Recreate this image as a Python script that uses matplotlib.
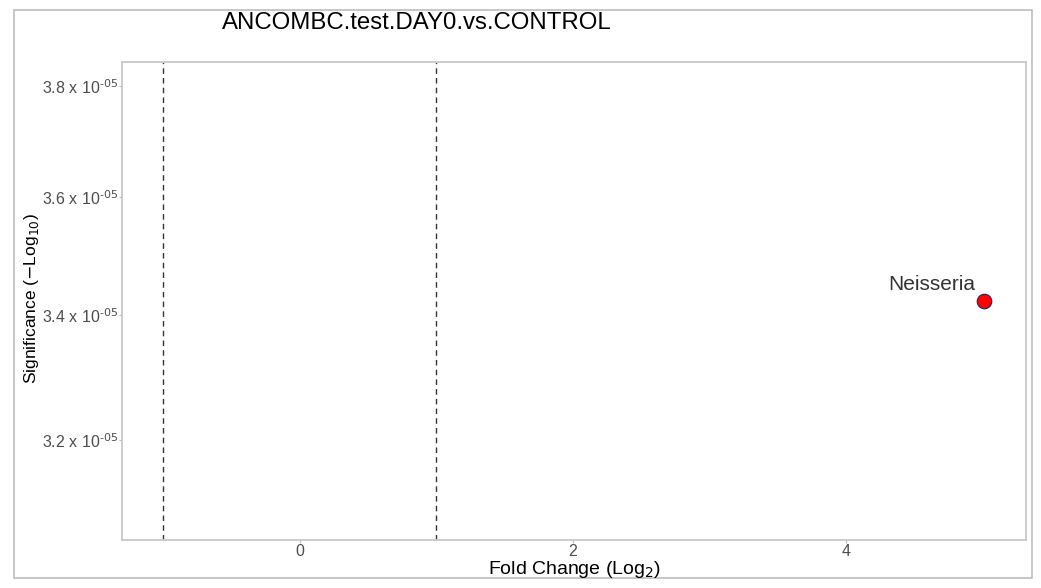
import matplotlib
matplotlib.use("Agg")
import matplotlib.pyplot as plt
from matplotlib.ticker import FixedLocator, NullLocator
from matplotlib.patches import Rectangle

plt.rcParams['font.family'] = ['Liberation Sans', 'DejaVu Sans']

# Data
taxa = ["Neisseria"]
log2_fc = [5.01]
significance = [3.4235e-5]
fc_cutoffs = [-1.0, 1.0]
x_ticks = [0, 2, 4]
y_ticks = [3.2e-5, 3.4e-5, 3.6e-5, 3.8e-5]
y_tick_labels = ["3.2 x 10$^{\u201005}$", "3.4 x 10$^{\u201005}$",
                 "3.6 x 10$^{\u201005}$", "3.8 x 10$^{\u201005}$"]

fig = plt.figure(figsize=(10.41, 5.88), dpi=100)
W, H = 1041, 588

# outer frame
fig.patches.append(Rectangle((14 / W, 1 - 578 / H), (1032 - 14) / W, (578 - 10) / H,
                             transform=fig.transFigure, fill=False,
                             edgecolor="#bdbdbd", linewidth=1.2))

ax = fig.add_axes([122 / W, 1 - 540 / H, (1026 - 122) / W, (540 - 62) / H])
ax.set_yscale("log")
ax.set_xlim(-1.3, 5.32)
ax.set_ylim(3.048e-5, 3.8445e-5)

for c in fc_cutoffs:
    ax.axvline(c, color="#333333", linestyle=(0, (4, 3)), linewidth=1.0, zorder=1)

ax.scatter(log2_fc, significance, s=110, color="#ff0000", edgecolors="#222266",
           linewidths=0.8, zorder=3)
for name, x, y in zip(taxa, log2_fc, significance):
    ax.annotate(name, (x, y), xytext=(-37.5, 11.5), textcoords="offset points",
                ha="center", va="center", fontsize=15, color="#333333")

ax.yaxis.set_major_locator(FixedLocator(y_ticks))
ax.yaxis.set_minor_locator(NullLocator())
ax.set_yticklabels(y_tick_labels)
ax.set_xticks(x_ticks)
ax.set_xticklabels([str(t) for t in x_ticks])
ax.tick_params(axis="both", colors="#bbbbbb", labelcolor="#4d4d4d",
               labelsize=11.5, length=2, width=0.8, pad=1)

for s in ax.spines.values():
    s.set_color("#c8c8c8")
    s.set_linewidth(1.3)

fig.text(574 / W, 1 - 569 / H, r"Fold Change (Log$_2$)", ha="center",
         va="center", fontsize=14, color="black")
fig.text(32 / W, 1 - 299 / H, r"Significance ($-$Log$_{10}$)", rotation=90,
         ha="center", va="center", fontsize=12.5, color="black")

fig.text(417 / W, 1 - 23 / H, "ANCOMBC.test.DAY0.vs.CONTROL", ha="center",
         va="center", fontsize=17.3, color="black")

fig.savefig("out.png", dpi=100)
